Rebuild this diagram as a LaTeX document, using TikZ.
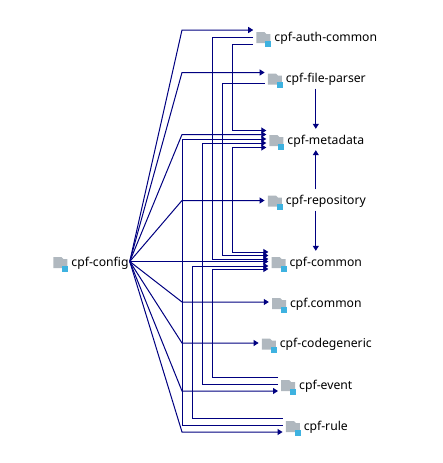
\documentclass[tikz,border=0pt]{standalone}
\usepackage{fontspec}
\setmainfont{Noto Sans}
\usetikzlibrary{arrows.meta}
\definecolor{depblue}{RGB}{0,0,128}
\definecolor{foldergray}{RGB}{176,184,191}
\definecolor{badgeblue}{RGB}{62,178,224}
\tikzset{
  dep/.style={draw=depblue, line width=1pt, -{Triangle[length=5pt,width=6pt]}}, % dependency line
  pkg/.style={inner sep=0pt, minimum height=21pt, text height=10.5pt, text depth=1.5pt, font=\fontsize{12.2}{14}\selectfont,
    execute at begin node={\hspace*{21pt}}, execute at end node={\hspace*{1pt}},
    path picture={
      \coordinate (w) at (path picture bounding box.west);
      \fill[foldergray] ([shift={(3pt,-6.5pt)}]w) -- ++(0pt,11pt) -- ++(8pt,0pt) -- ++(2pt,-2pt) -- ++(4pt,0pt) -- ++(0pt,-9pt) -- cycle;
      \fill[badgeblue] ([shift={(12pt,-10pt)}]w) rectangle ++(6pt,6pt);
    }}, % package with folder icon
}
\begin{document}
\begin{tikzpicture}[x=1pt,y=-1pt]
\useasboundingbox (0,0) rectangle (442,463);
% packages
\node[pkg] (config) at (90,261.5) {cpf-config};
\node[pkg] (auth) at (315.8,36.5) {cpf-auth-common};
\node[pkg] (file) at (315.8,78) {cpf-file-parser};
\node[pkg] (metadata) at (315.8,139.5) {cpf-metadata};
\node[pkg] (repo) at (315.8,200) {cpf-repository};
\node[pkg] (common) at (315.8,261.5) {cpf-common};
\node[pkg] (dotcommon) at (315.8,302.5) {cpf.common};
\node[pkg] (codegen) at (315.8,343) {cpf-codegeneric};
\node[pkg] (event) at (315.8,384.5) {cpf-event};
\node[pkg] (rule) at (315.8,425.5) {cpf-rule};
% from config, fan out then straight
\foreach \tgt/\ty in {auth/30,file/72.5,metadata/134.5,repo/200.5,dotcommon/302,codegen/343,event/391,rule/432}
  \draw[dep] (config.east) -- (182,\ty) -- (\tgt.west |- 0,\ty);
\draw[dep] (config.east) -- (common.west |- config.east);
% routed lines, one channel each
\foreach \src/\sy/\chan/\tgt/\ty in {auth/37.5/212/common/259,auth/44.5/232/metadata/130.5,file/83.5/222/common/255.5,
    event/377.5/212/common/269,event/384.5/202/metadata/143,rule/418.5/192/common/266,rule/425.5/182/metadata/139}
  \draw[dep] (\src.west |- 0,\sy) -- (\chan,\sy) -- (\chan,\ty) -- (\tgt.west |- 0,\ty);
\draw[dep,{Triangle[length=5pt,width=6pt]}-{Triangle[length=5pt,width=6pt]}] (metadata.west |- 0,147.5) -- (232,147.5) -- (232,252) -- (common.west |- 0,252);
% short vertical ones
\draw[dep] (file) -- (metadata);
\draw[dep] (repo) -- (metadata);
\draw[dep] (repo) -- (common);
\end{tikzpicture}
\end{document}
